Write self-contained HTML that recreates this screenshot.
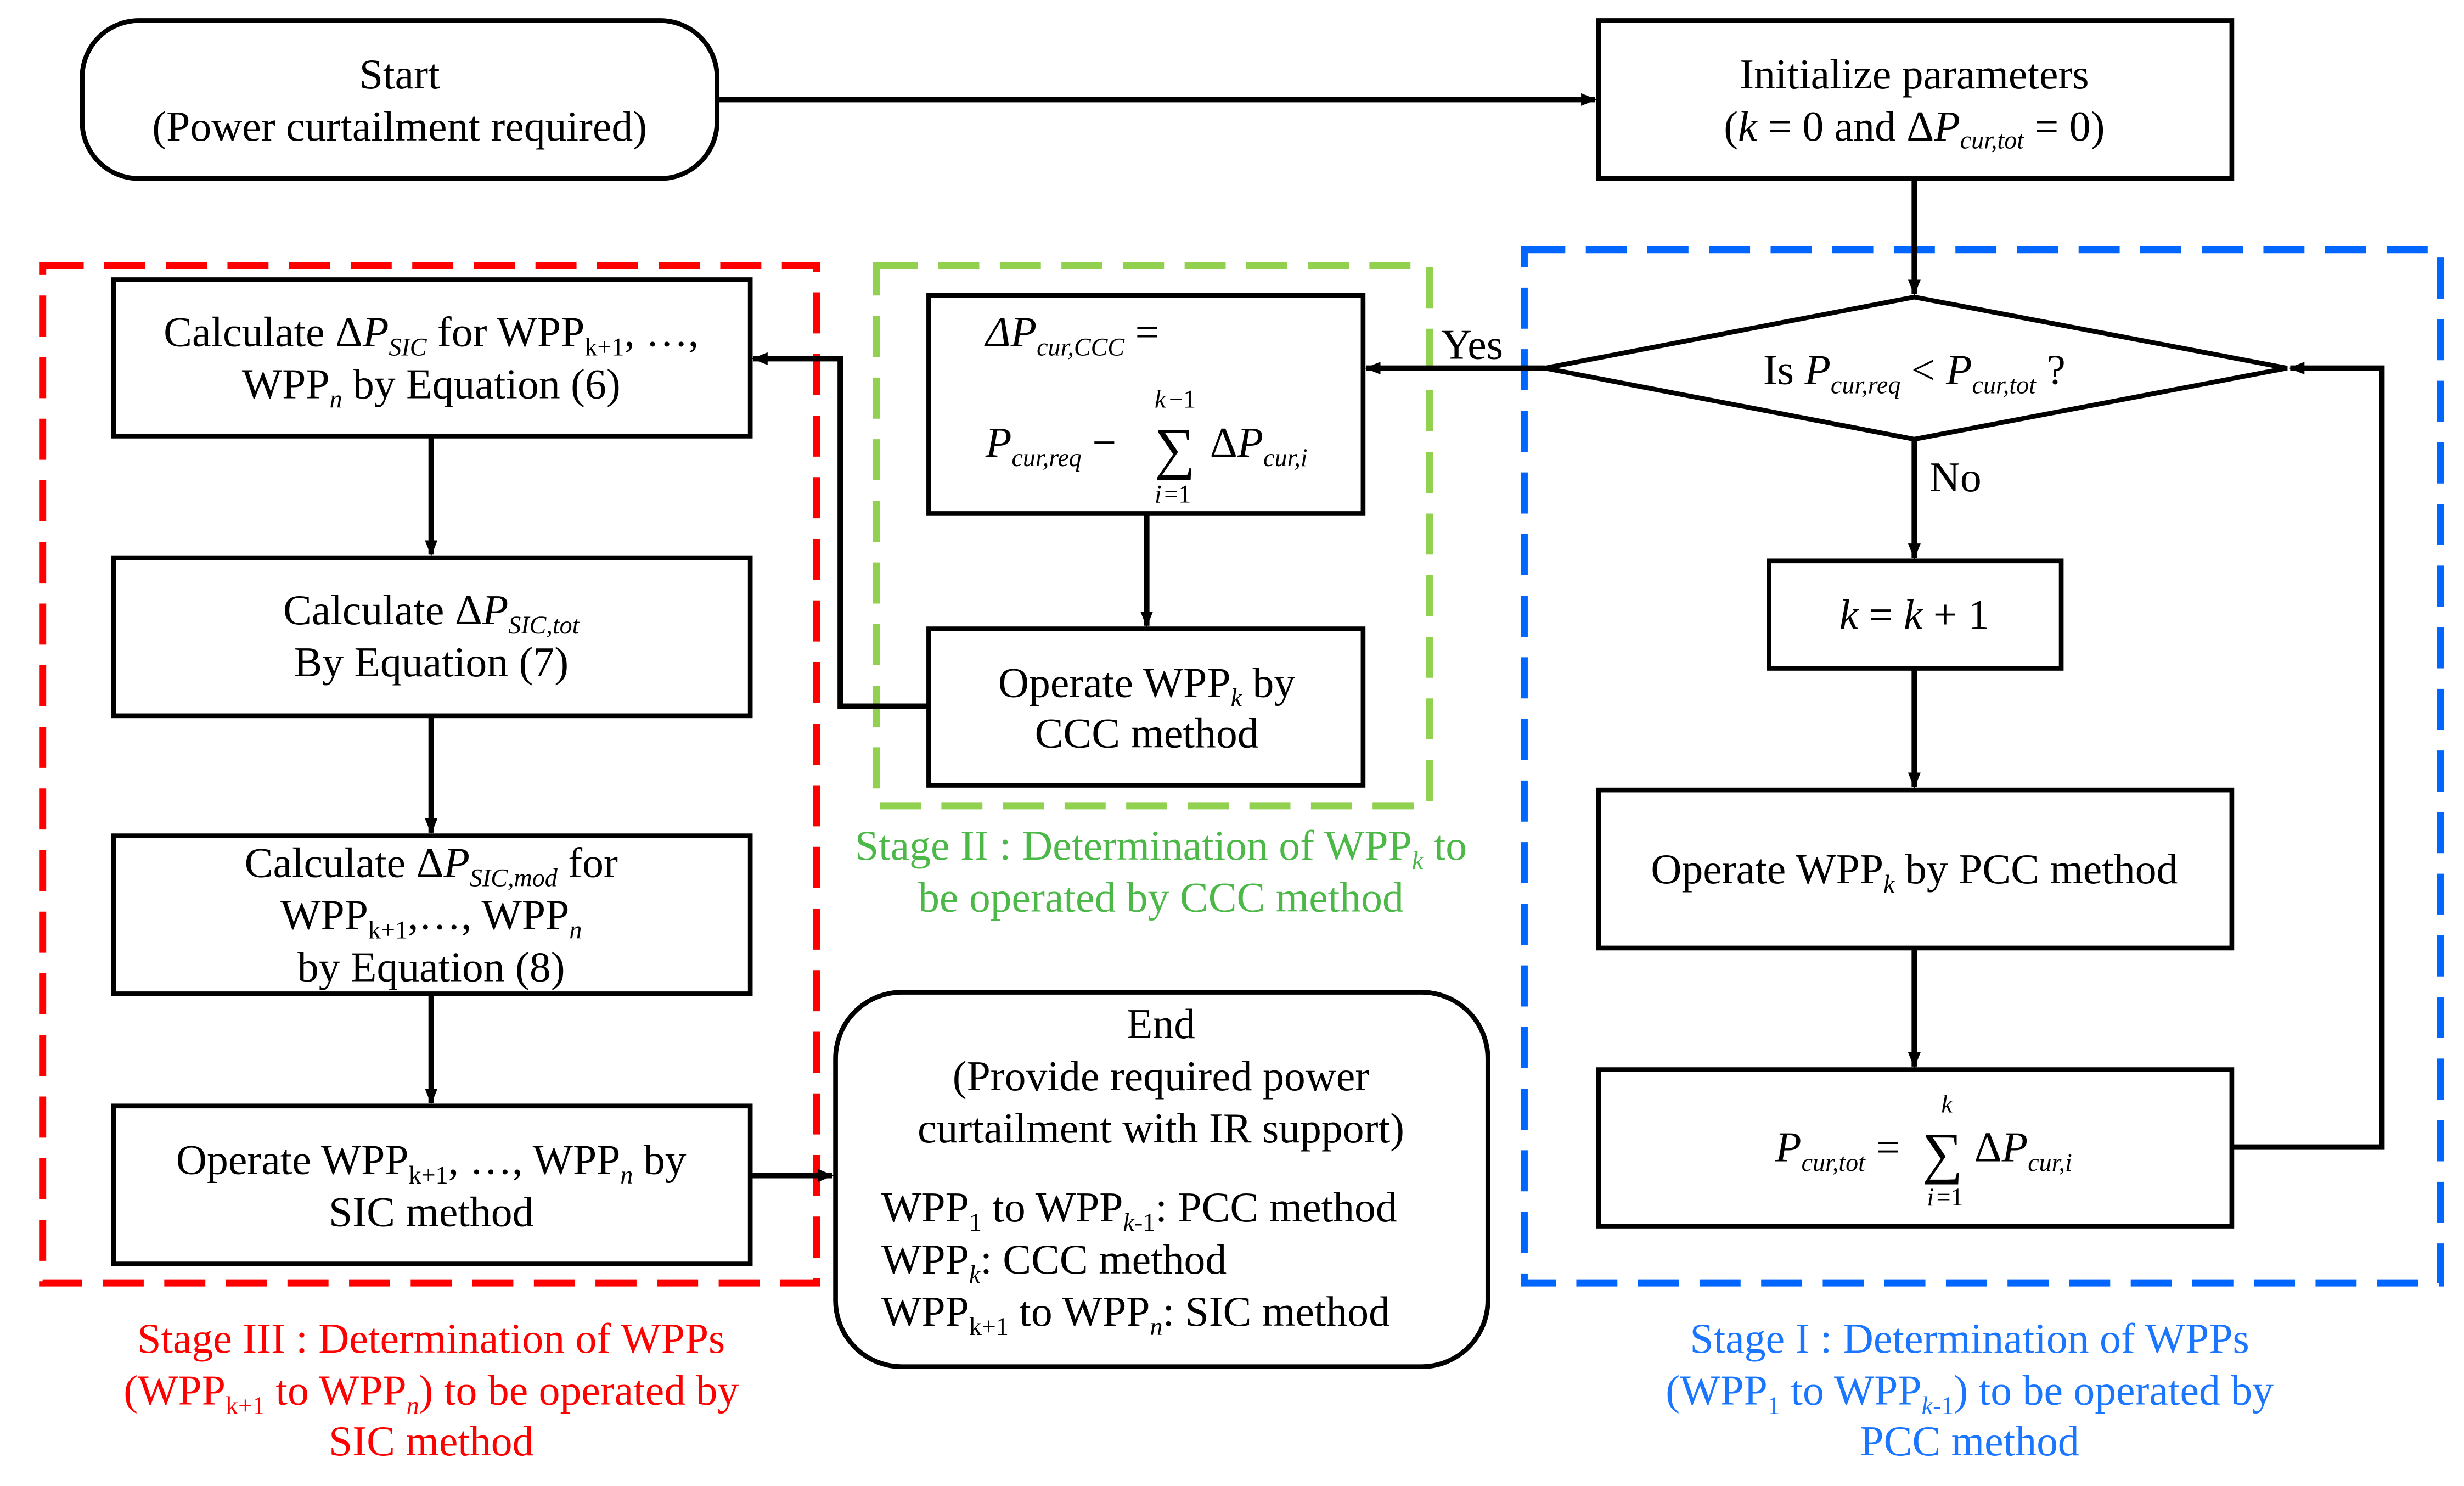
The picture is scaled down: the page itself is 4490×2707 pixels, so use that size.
<!DOCTYPE html>
<html><head><meta charset="utf-8"><style>
html,body{margin:0;padding:0;background:#fff;}
svg{display:block}
text{font-family:"Liberation Serif",serif;font-size:27px;fill:#000}
.s{font-size:16px;font-style:italic}
.sn{font-size:16px}
.i{font-style:italic}
.sum{font-size:36px}
</style></head><body>
<svg width="4490" height="2707" viewBox="0 0 1560 940.5" xmlns="http://www.w3.org/2000/svg">
<defs>
<marker id="a" markerWidth="10" markerHeight="8" refX="9" refY="4" orient="auto" markerUnits="userSpaceOnUse">
<path d="M0,0 L10,4 L0,8 Z" fill="#000"/></marker>
</defs>
<g fill="none" stroke-width="4.5" stroke-dasharray="26 13">
<rect x="27" y="168" width="490" height="644" stroke="#ff0000"/>
<rect x="555" y="168" width="350" height="342" stroke="#92d050"/>
<rect x="965" y="158" width="580" height="654" stroke="#0066ff"/>
</g>
<g fill="#fff" stroke="#000" stroke-width="3">
<rect x="52" y="13" width="402" height="100" rx="36"/>
<rect x="1012" y="13" width="401" height="100"/>
<polygon points="978,233 1212,188 1448,233 1212,278"/>
<rect x="1120" y="355" width="185" height="68"/>
<rect x="1012" y="500" width="401" height="100"/>
<rect x="1012" y="677" width="401" height="99"/>
<rect x="588" y="187" width="275" height="138"/>
<rect x="588" y="398" width="275" height="99"/>
<rect x="72" y="177" width="403" height="99"/>
<rect x="72" y="353" width="403" height="100"/>
<rect x="72" y="529" width="403" height="100"/>
<rect x="72" y="700" width="403" height="100"/>
<rect x="529" y="628" width="413" height="237" rx="42"/>
</g>
<g fill="none" stroke="#000" stroke-width="3.5" marker-end="url(#a)">
<path d="M454,63 H1010"/>
<path d="M1212,113 V186"/>
<path d="M978,233 H865"/>
<path d="M1212,278 V353"/>
<path d="M1212,423 V498"/>
<path d="M1212,600 V675"/>
<path d="M1413,726 H1508 V233 H1450"/>
<path d="M726,325 V396"/>
<path d="M588,447 H532 V227 H477"/>
<path d="M273,276 V351"/>
<path d="M273,453 V527"/>
<path d="M273,629 V698"/>
<path d="M475,744 H527"/>
</g>
<g text-anchor="middle">
<text x="253" y="56">Start</text>
<text x="253" y="89">(Power curtailment required)</text>
<text x="1212" y="56">Initialize parameters</text>
<text x="1212" y="89">(<tspan class="i">k</tspan> = 0 and Δ<tspan class="i">P</tspan><tspan class="s" dy="5">cur,tot</tspan><tspan dy="-5"> = 0)</tspan></text>
<text x="1212" y="243">Is <tspan class="i">P</tspan><tspan class="s" dy="6">cur,req</tspan><tspan dy="-6"> &lt; </tspan><tspan class="i">P</tspan><tspan class="s" dy="6">cur,tot</tspan><tspan dy="-6"> ?</tspan></text>
<text x="1212" y="398"><tspan class="i">k</tspan> = <tspan class="i">k</tspan> + 1</text>
<text x="1212" y="559">Operate WPP<tspan class="s" dy="6">k</tspan><tspan dy="-6"> by PCC method</tspan></text>
<text x="932" y="227">Yes</text>
<text x="1238" y="311">No</text>
<text x="726" y="441">Operate WPP<tspan class="s" dy="6">k</tspan><tspan dy="-6"> by</tspan></text>
<text x="726" y="473">CCC method</text>
<text x="273" y="219">Calculate Δ<tspan class="i">P</tspan><tspan class="s" dy="6">SIC</tspan><tspan dy="-6"> for WPP</tspan><tspan class="sn" dy="6">k+1</tspan><tspan dy="-6">, …,</tspan></text>
<text x="273" y="252">WPP<tspan class="s" dy="6">n</tspan><tspan dy="-6"> by Equation (6)</tspan></text>
<text x="273" y="395">Calculate Δ<tspan class="i">P</tspan><tspan class="s" dy="6">SIC,tot</tspan></text>
<text x="273" y="428">By Equation (7)</text>
<text x="273" y="555">Calculate Δ<tspan class="i">P</tspan><tspan class="s" dy="6">SIC,mod</tspan><tspan dy="-6"> for</tspan></text>
<text x="273" y="588">WPP<tspan class="sn" dy="6">k+1</tspan><tspan dy="-6">,…, WPP</tspan><tspan class="s" dy="6">n</tspan></text>
<text x="273" y="621">by Equation (8)</text>
<text x="273" y="743">Operate WPP<tspan class="sn" dy="6">k+1</tspan><tspan dy="-6">, …, WPP</tspan><tspan class="s" dy="6">n</tspan><tspan dy="-6"> by</tspan></text>
<text x="273" y="776">SIC method</text>
<text x="735" y="657">End</text>
<text x="735" y="690">(Provide required power</text>
<text x="735" y="723">curtailment with IR support)</text>
</g>
<text x="624" y="219" class="i">ΔP<tspan class="s" dy="6">cur,CCC</tspan><tspan dy="-6" font-style="normal">  =</tspan></text>
<text x="624" y="289"><tspan class="i">P</tspan><tspan class="s" dy="6">cur,req</tspan><tspan dy="-6"> −</tspan></text>
<text x="731" y="296" class="sum">∑</text>
<text x="731" y="258" class="s">k</text><text x="740" y="258" class="sn">−1</text>
<text x="731" y="318" class="s">i</text><text x="737" y="318" class="sn">=1</text>
<text x="766" y="289">Δ<tspan class="i">P</tspan><tspan class="s" dy="6">cur,i</tspan></text>
<text x="1124" y="735"><tspan class="i">P</tspan><tspan class="s" dy="6">cur,tot</tspan><tspan dy="-6">  =</tspan></text>
<text x="1217" y="742" class="sum">∑</text>
<text x="1229" y="704" class="s">k</text>
<text x="1220" y="763" class="s">i</text><text x="1226" y="763" class="sn">=1</text>
<text x="1250" y="735">Δ<tspan class="i">P</tspan><tspan class="s" dy="6">cur,i</tspan></text>
<text x="558" y="773">WPP<tspan class="sn" dy="6">1</tspan><tspan dy="-6"> to WPP</tspan><tspan class="s" dy="6">k</tspan><tspan class="sn">-1</tspan><tspan dy="-6">: PCC method</tspan></text>
<text x="558" y="806">WPP<tspan class="s" dy="6">k</tspan><tspan dy="-6">: CCC method</tspan></text>
<text x="558" y="839">WPP<tspan class="sn" dy="6">k+1</tspan><tspan dy="-6"> to WPP</tspan><tspan class="s" dy="6">n</tspan><tspan dy="-6">: SIC method</tspan></text>
<g text-anchor="middle">
<text x="735" y="544" style="fill:#4cb848">Stage II : Determination of WPP<tspan class="s" dy="6" style="fill:#4cb848">k</tspan><tspan dy="-6" style="fill:#4cb848"> to</tspan></text>
<text x="735" y="577" style="fill:#4cb848">be operated by CCC method</text>
<text x="273" y="856" style="fill:#ff0000">Stage III : Determination of WPPs</text>
<text x="273" y="889" style="fill:#ff0000">(WPP<tspan class="sn" dy="6" style="fill:#ff0000">k+1</tspan><tspan dy="-6" style="fill:#ff0000"> to WPP</tspan><tspan class="s" dy="6" style="fill:#ff0000">n</tspan><tspan dy="-6" style="fill:#ff0000">) to be operated by</tspan></text>
<text x="273" y="921" style="fill:#ff0000">SIC method</text>
<text x="1247" y="856" style="fill:#1a75ff">Stage I : Determination of WPPs</text>
<text x="1247" y="889" style="fill:#1a75ff">(WPP<tspan class="sn" dy="6" style="fill:#1a75ff">1</tspan><tspan dy="-6" style="fill:#1a75ff"> to WPP</tspan><tspan class="s" dy="6" style="fill:#1a75ff">k</tspan><tspan class="sn" style="fill:#1a75ff">-1</tspan><tspan dy="-6" style="fill:#1a75ff">) to be operated by</tspan></text>
<text x="1247" y="921" style="fill:#1a75ff">PCC method</text>
</g>
</svg>
</body></html>
